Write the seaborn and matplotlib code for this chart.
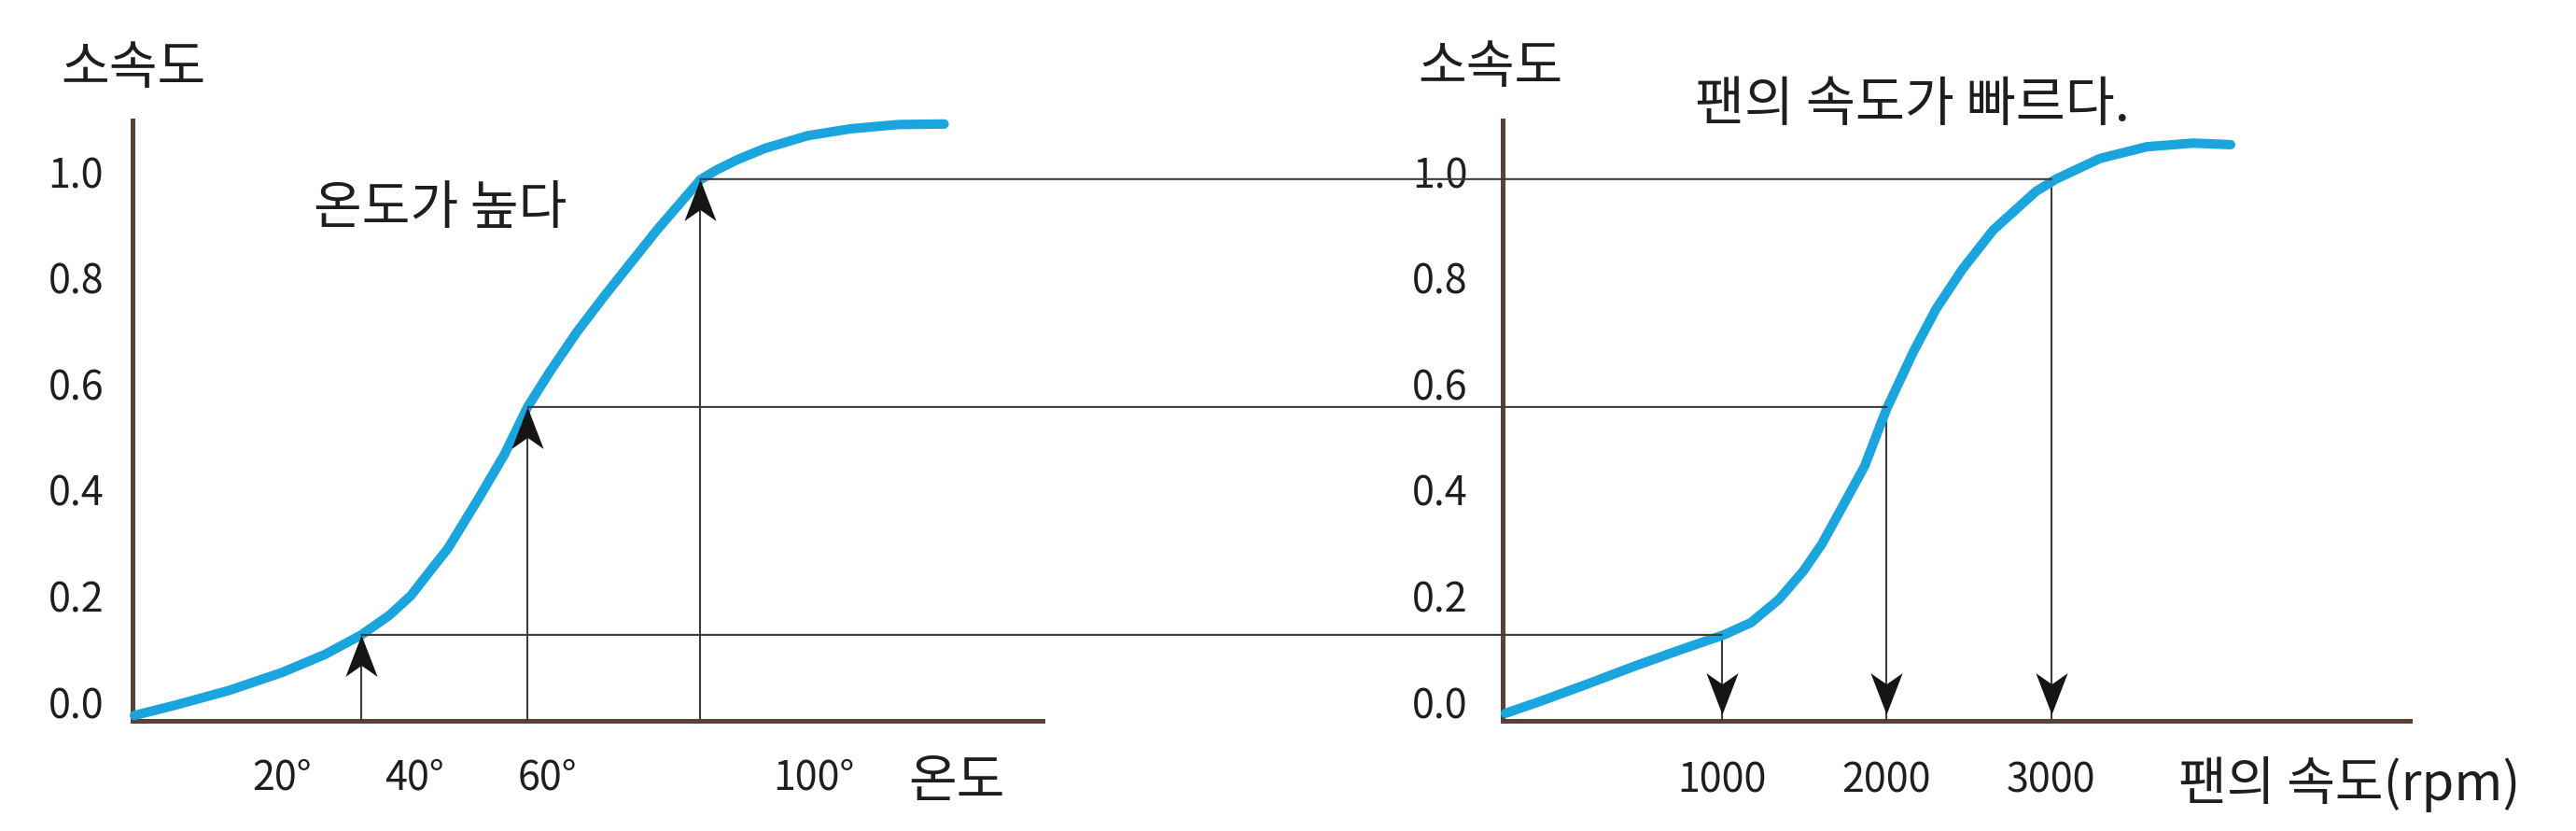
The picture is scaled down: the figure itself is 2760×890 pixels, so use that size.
import matplotlib
matplotlib.use("Agg")
import matplotlib.pyplot as plt
from matplotlib.patches import ConnectionPatch
from matplotlib.path import Path
import seaborn as sns

# left: 온도 -> 소속도
temp = [-2.10, 3.93, 12.07, 20.07, 26.52, 32.00, 36.21, 39.43, 42.66, 45.05, 49.68,
        53.47, 56.97, 60.34, 64.41, 68.48, 72.41, 76.48, 82.94, 85.32, 88.55,
        92.62, 99.07, 105.53, 112.69, 119.56]
temp_val = [-0.025, -0.006, 0.022, 0.056, 0.090, 0.127, 0.164, 0.201, 0.253, 0.291, 0.386,
            0.467, 0.557, 0.624, 0.699, 0.766, 0.828, 0.892, 0.986, 1.004, 1.024,
            1.045, 1.069, 1.082, 1.090, 1.091]

# right: 팬의 속도 -> 소속도
rpm = [-314, -99, 190, 479, 768, 1011, 1176, 1346, 1493, 1606, 1737, 1867, 1958, 2005,
       2162, 2300, 2460, 2647, 2907, 3028, 3295, 3578, 3861, 4088]
rpm_val = [-0.021, 0.002, 0.035, 0.069, 0.101, 0.127, 0.150, 0.194, 0.247, 0.298, 0.372,
           0.446, 0.520, 0.557, 0.661, 0.742, 0.817, 0.891, 0.964, 0.987, 1.026, 1.048,
           1.055, 1.052]

# guide lines linking the two curves
guide_temp = [32.0, 57.0, 82.9]
guide_rpm = [1000, 2000, 3000]
guide_val = [0.127, 0.557, 0.987]

y_ticks = [0.0, 0.2, 0.4, 0.6, 0.8, 1.0]
temp_ticks = [20, 40, 60, 100]
temp_labels = ["20°", "40°", "60°", "100°"]
rpm_ticks = [1000, 2000, 3000]
rpm_labels = ["1000", "2000", "3000"]

sns.set_theme(style="white")
plt.rcParams["font.family"] = ["Noto Sans CJK KR", "DejaVu Sans"]

BLUE = "#1ba5de"
BROWN = "#5a4236"
GUIDE = "#3c3c3c"
TXT = "#1e1e1e"

fig = plt.figure(figsize=(27.6, 8.9), dpi=100)
ax1 = fig.add_axes([0.05134, 0.1329, 0.35326, 0.7217])
ax2 = fig.add_axes([0.58333, 0.1329, 0.35217, 0.7217])

y_lo, y_hi = -0.0347, 1.097
ax1.set_xlim(-2.43, 134.3)
ax2.set_xlim(-331, 5176)

# notched arrow heads, tip at (0, 0)
up_head = Path([(0, 0), (-0.5, -1.3), (0, -0.95), (0.5, -1.3), (0, 0)],
               [Path.MOVETO, Path.LINETO, Path.LINETO, Path.LINETO, Path.CLOSEPOLY])
down_head = Path([(0, 0), (-0.5, 1.3), (0, 0.95), (0.5, 1.3), (0, 0)],
                 [Path.MOVETO, Path.LINETO, Path.LINETO, Path.LINETO, Path.CLOSEPOLY])

for ax in (ax1, ax2):
    ax.set_ylim(y_lo, y_hi)
    ax.set_facecolor("white")
    for s in ("top", "right"):
        ax.spines[s].set_visible(False)
    for s in ("left", "bottom"):
        ax.spines[s].set_color(BROWN)
        ax.spines[s].set_linewidth(3.6)
    ax.set_yticks(y_ticks)
    ax.set_yticklabels([f"{t:.1f}" for t in y_ticks])
    ax.tick_params(axis="both", length=0, labelsize=31, labelcolor=TXT)
    ax.grid(False)

ax1.tick_params(axis="y", pad=22)
ax2.tick_params(axis="y", pad=27)
ax1.tick_params(axis="x", pad=29)
ax2.tick_params(axis="x", pad=31)

# curves
sns.lineplot(x=temp, y=temp_val, ax=ax1, color=BLUE, lw=7.3, solid_capstyle="round",
             solid_joinstyle="round", clip_on=False, zorder=4)
sns.lineplot(x=rpm, y=rpm_val, ax=ax2, color=BLUE, lw=7.3, solid_capstyle="round",
             solid_joinstyle="round", clip_on=False, zorder=4)

# left: arrows from the axis up to the curve
ax1.vlines(guide_temp, y_lo, guide_val, color=GUIDE, lw=1.5, zorder=3)
ax1.plot(guide_temp, guide_val, ls="none", marker=up_head, ms=64, color="#151515",
         mec="#151515", mew=0, zorder=5, clip_on=False)

# right: arrows from the curve down to the axis
arrow_tip = y_lo + 0.012
ax2.vlines(guide_rpm, y_lo, guide_val, color=GUIDE, lw=1.5, zorder=3)
ax2.plot(guide_rpm, [arrow_tip] * len(guide_rpm), ls="none", marker=down_head, ms=64,
         color="#151515", mec="#151515", mew=0, zorder=5, clip_on=False)

# horizontal guides crossing from one chart to the other
for t, r, v in zip(guide_temp, guide_rpm, guide_val):
    con = ConnectionPatch(xyA=(t, v), coordsA="data", axesA=ax1,
                          xyB=(r, v), coordsB="data", axesB=ax2,
                          color=GUIDE, lw=1.5, zorder=2)
    fig.add_artist(con)

ax1.set_xticks(temp_ticks)
ax1.set_xticklabels(temp_labels)
ax2.set_xticks(rpm_ticks)
ax2.set_xticklabels(rpm_labels)

# axis labels
ax1.set_ylabel("소속도", rotation=0, fontsize=40.5, color=TXT, ha="center", va="center")
ax1.yaxis.set_label_coords(0.0013, 1.086)
ax2.set_ylabel("소속도", rotation=0, fontsize=40.5, color=TXT, ha="center", va="center")
ax2.yaxis.set_label_coords(-0.014, 1.088)
ax1.set_xlabel("온도", fontsize=40.5, color=TXT, ha="center", va="center")
ax1.xaxis.set_label_coords(0.906, -0.103)
ax2.set_xlabel("팬의 속도(rpm)", fontsize=40.5, color=TXT, ha="center", va="center")
ax2.xaxis.set_label_coords(0.933, -0.106)

ax1.text(0.338, 0.853, "온도가 높다", transform=ax1.transAxes, fontsize=40.5, color=TXT,
         ha="center", va="center")
ax2.text(0.4517, 1.0255, "팬의 속도가 빠르다.", transform=ax2.transAxes, fontsize=41.5,
         color=TXT, ha="center", va="center")

fig.savefig("out.png", dpi=100, facecolor="white")
